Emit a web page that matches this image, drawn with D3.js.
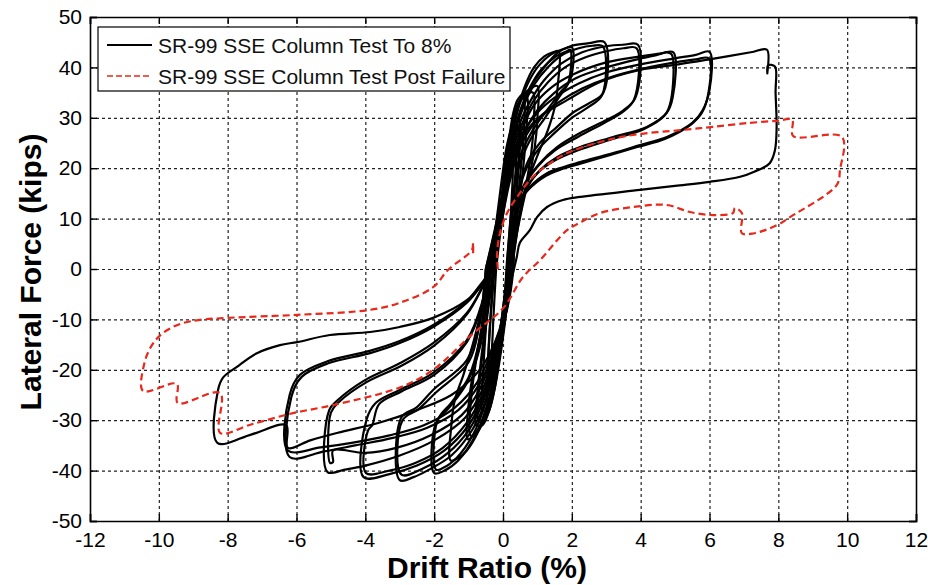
<!DOCTYPE html>
<html>
<head>
<meta charset="utf-8">
<script src="https://cdn.jsdelivr.net/npm/d3@7/dist/d3.min.js"></script>
<style>
body { margin: 0; background: #fff; }
svg { font-family: "Liberation Sans", Arial, sans-serif; }
</style>
</head>
<body>
<svg id="chart" width="928" height="585"></svg>
<script>
var seriesNames = ["SR-99 SSE Column Test To 8%", "SR-99 SSE Column Test Post Failure"];
var xTicks = [-12, -10, -8, -6, -4, -2, 0, 2, 4, 6, 8, 10, 12];
var yTicks = [-50, -40, -30, -20, -10, 0, 10, 20, 30, 40, 50];

// drift ratio (%), lateral force (kips) - one array per cycle
var testCycles = [
	[[-0.2,0],[-0.08,7],[0.05,13],[0.18,18],[0.28,20],[0.26,15],[0.2,8],[0.12,2],[0.05,-5],[-0.08,-12],[-0.2,-17],[-0.32,-19],[-0.3,-13],[-0.25,-6],[-0.2,0]],
	[[-0.25,0],[-0.12,8],[0.0,15],[0.15,21],[0.3,24],[0.38,24.5],[0.36,19],[0.28,11],[0.18,4],[0.1,-3],[-0.05,-11],[-0.2,-18],[-0.35,-22],[-0.45,-23],[-0.42,-16],[-0.35,-8],[-0.25,0]],
	[[-0.25,0],[-0.1,8],[0.05,16],[0.2,23],[0.35,27],[0.45,28.5],[0.47,25],[0.42,18],[0.32,10],[0.2,3],[0.1,-5],[-0.05,-13],[-0.2,-20],[-0.35,-25],[-0.45,-27],[-0.45,-22],[-0.4,-14],[-0.32,-6],[-0.25,0]],
	[[-0.35,0],[-0.2,9],[-0.05,17],[0.1,24],[0.25,28],[0.4,30],[0.5,29],[0.48,23],[0.38,14],[0.25,5],[0.15,-2],[0.02,-10],[-0.15,-18],[-0.32,-24],[-0.5,-28],[-0.6,-28],[-0.58,-21],[-0.5,-12],[-0.42,-5],[-0.35,0]],
	[[-0.25,0],[-0.1,9],[0.05,18],[0.2,26],[0.32,30.5],[0.45,33],[0.6,34.2],[0.7,34],[0.68,28],[0.6,21],[0.48,14],[0.32,6],[0.2,0],[0.1,-8],[-0.05,-16],[-0.22,-23],[-0.4,-28],[-0.6,-30.5],[-0.72,-30],[-0.7,-24],[-0.6,-17],[-0.45,-9],[-0.3,-2],[-0.25,0]],
	[[-0.3,0],[-0.12,9],[0.03,18],[0.18,26],[0.3,31],[0.42,33.5],[0.55,34.5],[0.62,33.5],[0.6,27],[0.52,20],[0.4,12],[0.27,5],[0.18,0],[0.08,-8],[-0.08,-16],[-0.25,-24],[-0.42,-28.5],[-0.6,-31],[-0.78,-31],[-0.75,-25],[-0.62,-17],[-0.45,-8],[-0.32,-2],[-0.3,0]],
	[[-0.3,0],[-0.12,9],[0.05,18],[0.22,27],[0.4,32],[0.6,34.6],[0.8,35.8],[1.0,36.3],[1.0,30],[0.92,24],[0.75,18],[0.55,12],[0.35,5],[0.25,0],[0.1,-8],[-0.1,-17],[-0.32,-25],[-0.55,-30],[-0.8,-32.5],[-1.02,-33.8],[-1.0,-27],[-0.88,-21],[-0.68,-14],[-0.5,-7],[-0.35,0]],
	[[-0.35,0],[-0.12,10],[0.06,20],[0.25,28],[0.45,32.5],[0.65,34.5],[0.87,35],[0.9,30],[0.82,23],[0.65,16],[0.45,9],[0.3,2],[0.2,-3],[0.05,-10],[-0.15,-18],[-0.38,-26],[-0.62,-31],[-0.85,-33],[-0.95,-33],[-0.93,-26],[-0.8,-19],[-0.62,-12],[-0.45,-5],[-0.35,0]],
	[[-0.35,0],[-0.12,10],[0.05,17],[0.22,25],[0.42,31.5],[0.62,36],[0.9,40],[1.2,42.2],[1.45,43],[1.62,43.2],[1.6,37],[1.5,32],[1.3,27.5],[1.0,22.5],[0.7,17],[0.48,11],[0.32,4],[0.25,0],[0.1,-8],[-0.12,-17],[-0.38,-26],[-0.7,-32],[-1.05,-36],[-1.3,-37.5],[-1.52,-38],[-1.5,-31],[-1.4,-26],[-1.15,-21],[-0.88,-15],[-0.62,-8],[-0.42,-2],[-0.35,0]],
	[[-0.4,0],[-0.15,10],[0.05,17],[0.25,26],[0.45,32],[0.7,36.5],[1.0,40],[1.4,42.6],[1.75,43.6],[2.0,44],[1.95,37.5],[1.66,35],[1.28,31.5],[0.87,27.6],[0.49,22.2],[0.3,15],[0.2,6],[0.18,0],[0.05,-8],[-0.15,-17],[-0.42,-26],[-0.8,-33],[-1.3,-38],[-1.7,-40],[-2.0,-40.5],[-1.95,-30.6],[-1.55,-27.4],[-1.05,-22.6],[-0.65,-15],[-0.48,-6],[-0.4,0]],
	[[-0.45,0],[-0.15,9],[0.08,17],[0.28,25.5],[0.5,31.5],[0.78,36],[1.1,39.5],[1.5,42],[1.85,43.2],[1.95,43.5],[1.9,37],[1.62,34],[1.22,30],[0.82,26],[0.45,20],[0.25,12],[0.15,4],[0.12,0],[0.0,-8],[-0.2,-17],[-0.48,-26],[-0.88,-33],[-1.35,-37.5],[-1.75,-39.5],[-1.95,-39.8],[-1.9,-30],[-1.5,-26.5],[-1.0,-21.5],[-0.68,-14],[-0.52,-5],[-0.45,0]],
	[[-0.5,0],[-0.2,9],[0.05,17],[0.25,25],[0.5,31],[0.8,36],[1.2,40],[1.6,43],[2.0,44.3],[2.5,44.8],[2.95,45],[2.92,35],[2.53,33],[2.03,31],[1.57,28.2],[1.07,25],[0.7,21],[0.42,14],[0.28,6],[0.25,0],[0.1,-8],[-0.18,-18],[-0.5,-26],[-0.9,-32],[-1.5,-37],[-2.2,-40],[-2.6,-41.3],[-3.0,-41.9],[-2.95,-29.4],[-2.5,-27.4],[-2.03,-24],[-1.05,-18.1],[-0.7,-11],[-0.55,-4],[-0.5,0]],
	[[-0.5,0],[-0.15,10],[0.08,18],[0.3,26],[0.58,32],[0.9,36.5],[1.3,40],[1.75,42.6],[2.2,43.8],[2.6,44.3],[2.9,44.2],[2.88,34.5],[2.5,32.2],[2.0,30],[1.5,27],[1.0,23.5],[0.62,19],[0.38,12],[0.25,5],[0.2,0],[0.05,-8],[-0.22,-18],[-0.56,-26],[-1.0,-32],[-1.6,-36.5],[-2.3,-39.5],[-2.95,-40.8],[-2.92,-30],[-2.45,-27.8],[-1.95,-24.5],[-1.0,-18.5],[-0.68,-11],[-0.55,-4],[-0.5,0]],
	[[-0.4,0],[-0.12,10],[0.08,18],[0.3,25],[0.55,30],[0.85,34],[1.2,37.5],[1.7,40.8],[2.3,43],[3.0,44.2],[3.5,44.5],[3.92,44.5],[3.85,34],[3.5,31.5],[3.02,29.6],[2.24,27],[1.57,24.2],[1.07,21],[0.58,16.3],[0.35,9],[0.28,2],[0.25,0],[0.08,-8],[-0.2,-17],[-0.55,-25],[-1.0,-31],[-1.7,-36],[-2.5,-39],[-3.3,-40.7],[-4.05,-41.3],[-3.97,-30],[-3.7,-26.6],[-3.0,-24],[-2.03,-20.6],[-1.05,-14.1],[-0.58,-6],[-0.4,0]],
	[[-0.35,0],[-0.08,10],[0.1,18],[0.32,24.5],[0.6,29.5],[0.9,33.5],[1.3,37],[1.8,40],[2.4,42],[3.0,43.2],[3.5,43.8],[3.88,43.8],[3.8,33.5],[3.45,31],[2.95,29],[2.2,26.3],[1.5,23.5],[1.0,20.3],[0.55,15.5],[0.35,8],[0.25,2],[0.22,0],[0.05,-8],[-0.22,-17],[-0.6,-25],[-1.05,-30.5],[-1.75,-35.5],[-2.55,-38.5],[-3.3,-40],[-3.98,-40.5],[-3.92,-32],[-3.8,-31],[-3.6,-26.8],[-2.95,-24.3],[-2.0,-21],[-1.05,-14.5],[-0.55,-6],[-0.35,0]],
	[[-0.3,0],[-0.1,9],[0.1,17],[0.3,23],[0.6,28.5],[0.9,32.5],[1.4,36],[2.0,38.5],[3.0,41],[4.0,42.2],[4.6,42.8],[4.95,43],[4.93,34],[4.76,31],[4.18,28.2],[3.2,26.2],[2.24,24.2],[1.57,22.2],[1.07,19.6],[0.7,16.3],[0.4,11],[0.3,4],[0.28,0],[0.1,-8],[-0.22,-16],[-0.6,-24],[-1.1,-29.5],[-2.0,-34],[-3.0,-37],[-4.0,-39],[-4.6,-39.8],[-5.1,-40.3],[-5.05,-28],[-4.8,-26],[-4.0,-22],[-3.0,-18.7],[-2.03,-14.7],[-1.05,-8.7],[-0.55,-3],[-0.3,0]],
	[[-0.3,0],[-0.08,9],[0.12,16],[0.35,22],[0.65,27.5],[1.0,31.5],[1.5,35],[2.1,37.8],[3.0,40],[3.9,41.6],[4.5,42.5],[4.75,43],[4.9,42.6],[4.88,33.5],[4.7,30.5],[4.1,27.8],[3.1,25.6],[2.2,23.6],[1.5,21.5],[1.0,19],[0.65,15.5],[0.38,10],[0.28,3],[0.26,0],[0.08,-8],[-0.25,-16],[-0.65,-23.5],[-1.2,-29],[-2.1,-33],[-3.1,-35.5],[-4.0,-36.5],[-4.94,-36],[-4.94,-38.3],[-5.02,-38.5],[-5.0,-28.5],[-4.75,-26.3],[-3.95,-22.4],[-2.95,-19.2],[-2.0,-15.2],[-1.05,-9],[-0.55,-3],[-0.3,0]],
	[[-0.3,0],[-0.05,10],[0.2,19],[0.5,26],[1.0,31],[1.5,34],[2.2,36.8],[3.0,39],[4.0,40.6],[5.0,41.8],[5.6,42.5],[6.0,43.1],[6.0,35.5],[5.8,31.5],[5.5,29],[4.76,26.2],[3.98,24.6],[3.2,23],[2.24,21.2],[1.74,20.2],[1.28,19],[0.78,16.3],[0.45,13.1],[0.32,7],[0.3,0],[0.12,-8],[-0.2,-15],[-0.7,-23],[-1.3,-28],[-2.2,-31.5],[-3.2,-33.5],[-4.3,-35],[-5.2,-36.2],[-6.2,-37.3],[-6.15,-25.4],[-5.85,-21.4],[-5.08,-18.7],[-3.86,-16.7],[-3.0,-14.7],[-2.03,-11.5],[-1.05,-6.7],[-0.58,-2.8],[-0.3,0]],
	[[-0.3,0],[-0.05,9],[0.22,18],[0.55,25],[1.05,30],[1.6,33],[2.3,35.8],[3.1,38],[4.1,39.8],[5.0,41],[5.6,41.6],[5.98,41.8],[5.97,35],[5.78,31],[5.45,28.6],[4.7,25.8],[3.9,24.2],[3.1,22.6],[2.2,20.8],[1.7,19.8],[1.25,18.5],[0.75,15.8],[0.42,12.5],[0.3,6],[0.28,0],[0.1,-8],[-0.25,-15],[-0.75,-22.5],[-1.4,-27.5],[-2.3,-31],[-3.3,-33],[-4.4,-34.5],[-5.3,-35.4],[-6.25,-36],[-6.2,-25],[-5.9,-21],[-5.1,-18.3],[-3.9,-16.3],[-3.0,-14.3],[-2.05,-11.2],[-1.07,-6.5],[-0.6,-2.6],[-0.3,0]],
	[[-0.3,0],[-0.1,8],[0.2,21.6],[0.7,27.6],[1.07,30.2],[1.86,33.5],[2.82,37.1],[3.98,39.5],[5.1,40.6],[6.0,41.6],[7.2,43],[7.67,43.5],[7.68,38.8],[7.7,40.4],[7.9,40.2],[7.92,35],[7.95,28],[7.9,23.5],[7.75,21],[7.3,19.3],[6.89,18.3],[6.01,17.3],[5.0,16.5],[3.98,15.7],[2.24,14.3],[1.74,13.7],[1.28,12.3],[0.99,10.3],[0.78,7.7],[0.49,5.2],[0.4,2.4],[0.26,-1.6],[0.12,-4.8],[-0.1,-12],[-0.4,-17],[-0.8,-21],[-1.5,-25],[-2.5,-28],[-3.6,-30.5],[-4.8,-32.5],[-5.6,-34],[-6.25,-35.5],[-6.3,-31],[-7.3,-32.8],[-8.3,-34.5],[-8.28,-24],[-8.13,-21.5],[-7.73,-19.4],[-7.15,-16.7],[-6.48,-15.1],[-5.98,-14.5],[-5.03,-13.1],[-3.86,-12.5],[-3.0,-11.5],[-2.03,-9.7],[-1.05,-6.2],[-0.58,-2.8],[-0.29,0]]
];

var postFailure = [[-0.15,0],[-0.17,3.2],[-0.09,7.1],[0.12,11.1],[0.41,14.3],[0.87,18.3],[1.37,21],[1.86,23],[2.82,25.2],[3.78,26.6],[5.23,27.6],[6.1,28.2],[7.18,29],[7.96,29.4],[8.4,29.6],[8.43,26.4],[9.85,26.2],[9.79,19.6],[9.7,16.7],[8.34,10.3],[7.96,8.7],[7.3,7.1],[6.94,7.1],[6.94,11.1],[6.74,12.1],[6.68,11.1],[6.1,10.7],[5.43,11.3],[4.76,12.7],[3.78,12.3],[2.82,11.1],[2.24,9.2],[1.86,7.7],[1.08,1.8],[0.58,-1.6],[0,-7.8],[-0.87,-12.8],[-2.03,-20],[-3.0,-23.5],[-4.94,-27],[-6.1,-28.6],[-7.3,-30.8],[-8.22,-32.5],[-8.22,-24.6],[-9.45,-26.6],[-9.48,-22.8],[-10.46,-24.2],[-10.42,-18.7],[-10.2,-15.1],[-9.88,-12.7],[-9.38,-10.9],[-8.8,-10.1],[-8.0,-9.7],[-5.98,-9.1],[-3.86,-8.1],[-3.0,-6.7],[-2.03,-3.6],[-1.6,-0.2],[-0.9,3.8],[-0.87,5.2],[-0.87,2.4]];

var svg = d3.select("#chart");
var margin = {top: 17, right: 12, bottom: 64, left: 90};
var width = 928 - margin.left - margin.right;
var height = 585 - margin.top - margin.bottom;

var x = d3.scaleLinear().domain([-12, 12]).range([0, width]);
var y = d3.scaleLinear().domain([-50, 50]).range([height, 0]);

var g = svg.append("g")
	.attr("transform", "translate(" + margin.left + "," + margin.top + ")");

// dotted grid
g.append("g")
	.attr("class", "grid")
	.attr("transform", "translate(0," + height + ")")
	.call(d3.axisBottom(x).tickValues(xTicks.slice(1, -1)).tickSize(-height).tickFormat(""));
g.append("g")
	.attr("class", "grid")
	.call(d3.axisLeft(y).tickValues(yTicks.slice(1, -1)).tickSize(-width).tickFormat(""));
g.selectAll(".grid .domain").remove();
g.selectAll(".grid line")
	.attr("stroke", "#222")
	.attr("stroke-width", 1.2)
	.attr("stroke-dasharray", "3,3");

var line = d3.line()
	.x(function(d) { return x(d[0]); })
	.y(function(d) { return y(d[1]); })
	.curve(d3.curveCatmullRom.alpha(0.5));

g.selectAll(".cycle")
	.data(testCycles)
	.enter().append("path")
	.attr("class", "cycle")
	.attr("d", line)
	.attr("fill", "none")
	.attr("stroke", "#000")
	.attr("stroke-width", 2.2)
	.attr("stroke-linejoin", "round");

g.append("path")
	.datum(postFailure)
	.attr("d", line)
	.attr("fill", "none")
	.attr("stroke", "#e8281a")
	.attr("stroke-width", 2.2)
	.attr("stroke-dasharray", "7,4");

// axes with inward ticks, box on all four sides
var plain = function(d) { return String(d); };
g.append("g")
	.attr("transform", "translate(0," + height + ")")
	.call(d3.axisBottom(x).tickValues(xTicks).tickSize(-7).tickPadding(11).tickFormat(plain));
g.append("g")
	.call(d3.axisLeft(y).tickValues(yTicks).tickSize(-7).tickPadding(8).tickFormat(plain));
g.append("g")
	.call(d3.axisTop(x).tickValues(xTicks).tickSize(-7).tickFormat(""));
g.append("g")
	.attr("transform", "translate(" + width + ",0)")
	.call(d3.axisRight(y).tickValues(yTicks).tickSize(-7).tickFormat(""));

g.selectAll(".domain").attr("stroke", "#000").attr("stroke-width", 1.6);
g.selectAll(".tick line").filter(function() { return this.parentNode.parentNode.getAttribute("class") != "grid"; })
	.attr("stroke", "#000").attr("stroke-width", 1.4);
g.selectAll(".tick text")
	.attr("font-size", 21)
	.attr("font-family", "Liberation Sans, Arial, sans-serif")
	.attr("fill", "#000");

svg.append("text")
	.attr("x", 487)
	.attr("y", 578)
	.attr("text-anchor", "middle")
	.attr("font-size", 30)
	.attr("font-weight", "bold")
	.text("Drift Ratio (%)");

svg.append("text")
	.attr("transform", "translate(41,272) rotate(-90)")
	.attr("text-anchor", "middle")
	.attr("font-size", 30)
	.attr("font-weight", "bold")
	.text("Lateral Force (kips)");

// legend
var legend = svg.append("g").attr("transform", "translate(98,27)");
legend.append("rect")
	.attr("width", 412)
	.attr("height", 64)
	.attr("fill", "#fff")
	.attr("stroke", "#000")
	.attr("stroke-width", 1.2);
var rows = legend.selectAll(".row")
	.data(seriesNames)
	.enter().append("g")
	.attr("transform", function(d, i) { return "translate(0," + (18 + i * 31) + ")"; });
rows.append("line")
	.attr("x1", 9).attr("x2", 54)
	.attr("stroke", function(d, i) { return i == 0 ? "#000" : "#e8281a"; })
	.attr("stroke-width", function(d, i) { return i == 0 ? 2 : 1.6; })
	.attr("stroke-dasharray", function(d, i) { return i == 0 ? null : "6,3"; });
rows.append("text")
	.attr("x", 60)
	.attr("dy", "0.36em")
	.attr("font-size", 21)
	.attr("fill", "#111")
	.text(function(d) { return d; });
</script>
</body>
</html>
